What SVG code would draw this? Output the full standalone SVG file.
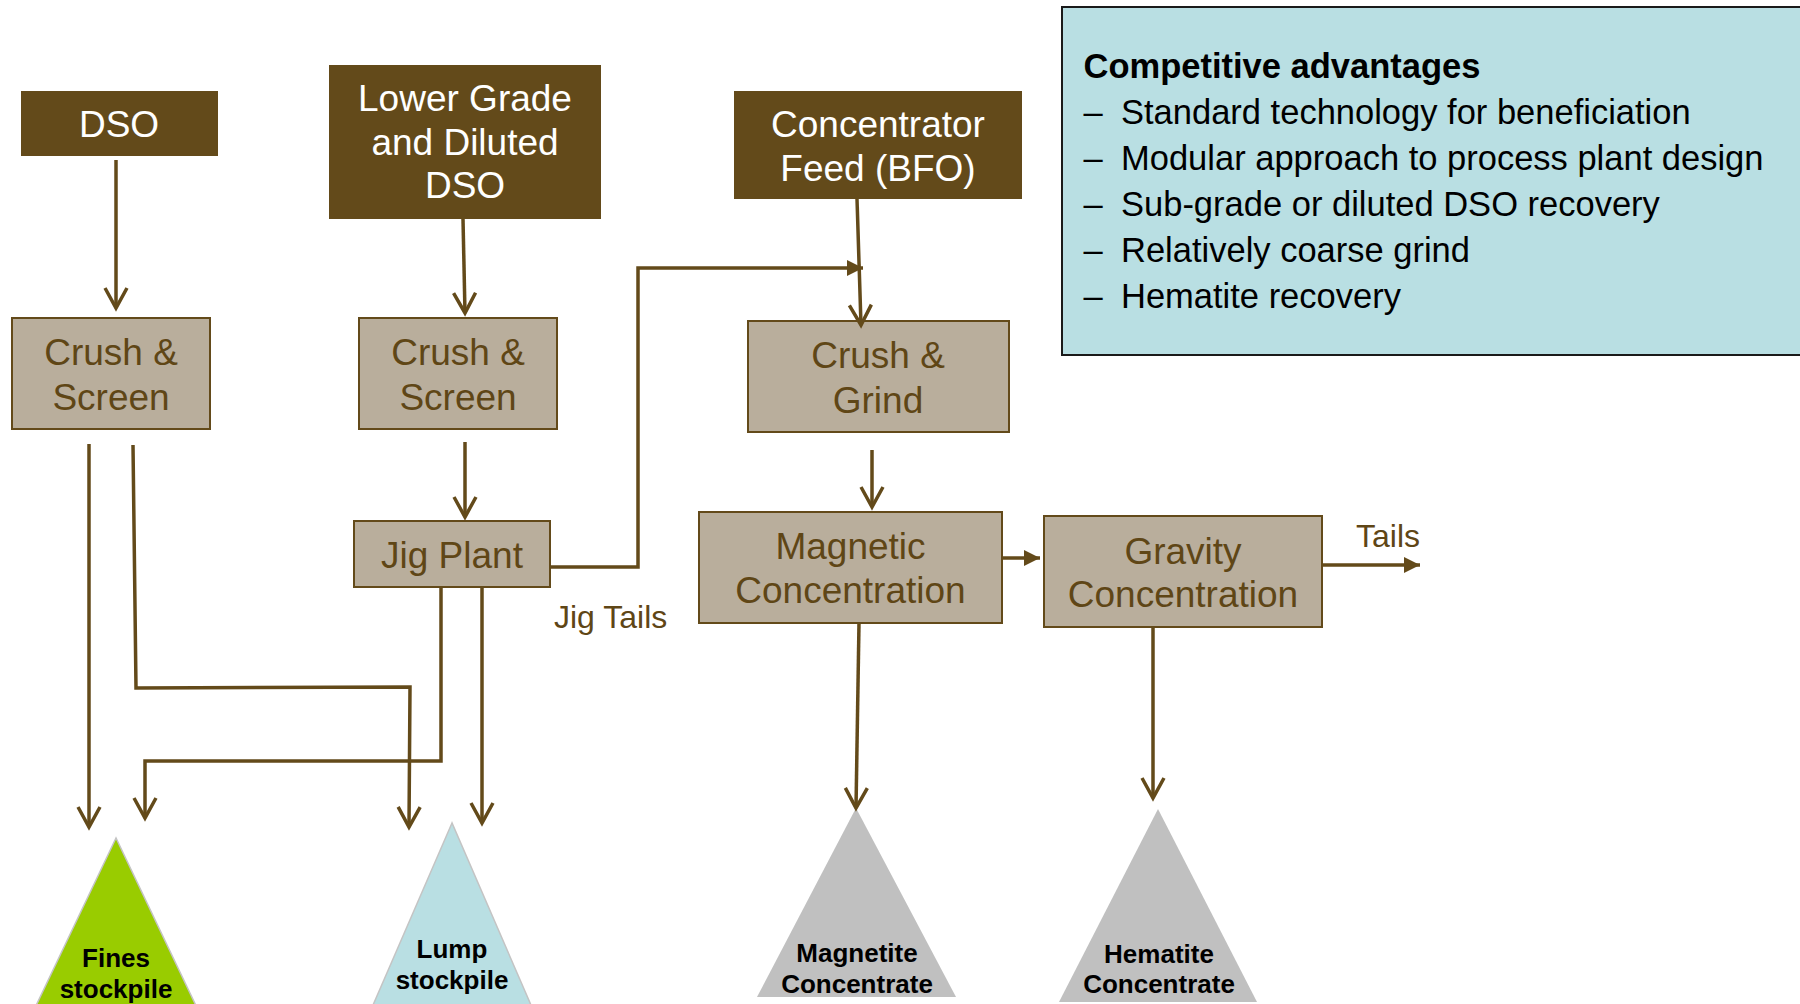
<svg xmlns="http://www.w3.org/2000/svg" width="1800" height="1004" viewBox="0 0 1800 1004">
<defs>
<style>
.hdr{fill:#634a1a}
.proc{fill:#b9ae9c;stroke:#634a1a;stroke-width:2}
.ht{font-family:"Liberation Sans",Arial,sans-serif;font-size:37px;fill:#ffffff;text-anchor:middle}
.pt{font-family:"Liberation Sans",Arial,sans-serif;font-size:37px;fill:#5f4616;text-anchor:middle}
.lbl{font-family:"Liberation Sans",Arial,sans-serif;font-size:32px;fill:#5f4616}
.pile{font-family:"Liberation Sans",Arial,sans-serif;font-size:26px;font-weight:bold;fill:#000;text-anchor:middle}
.pan{font-family:"Liberation Sans",Arial,sans-serif;font-size:34.5px;fill:#000}
.conn{fill:none;stroke:#634a1a;stroke-width:3.5}
</style>
<marker id="v" markerUnits="userSpaceOnUse" markerWidth="30" markerHeight="30" refX="0" refY="0" orient="auto" overflow="visible">
<path d="M-20,-11 L0,0 L-20,11" fill="none" stroke="#634a1a" stroke-width="3.5"/>
</marker>
<marker id="f" markerUnits="userSpaceOnUse" markerWidth="30" markerHeight="30" refX="0" refY="0" orient="auto" overflow="visible">
<path d="M-16,-8 L0,0 L-16,8 Z" fill="#634a1a"/>
</marker>
</defs>
<rect width="1800" height="1004" fill="#ffffff"/>

<g id="panel">
<rect x="1062" y="7" width="760" height="348" fill="#b9dfe3" stroke="#1a1a1a" stroke-width="2"/>
<text class="pan" x="1083.5" y="78" font-weight="bold" font-size="34">Competitive advantages</text>
<text class="pan" x="1083.5" y="124">–</text><text class="pan" x="1121" y="124">Standard technology for beneficiation</text>
<text class="pan" x="1083.5" y="170">–</text><text class="pan" x="1121" y="170">Modular approach to process plant design</text>
<text class="pan" x="1083.5" y="216">–</text><text class="pan" x="1121" y="216">Sub-grade or diluted DSO recovery</text>
<text class="pan" x="1083.5" y="262">–</text><text class="pan" x="1121" y="262">Relatively coarse grind</text>
<text class="pan" x="1083.5" y="308">–</text><text class="pan" x="1121" y="308">Hematite recovery</text>
</g>

<g id="dso">
<rect class="hdr" x="21" y="91" width="197" height="65"/>
<text class="ht" x="119" y="137">DSO</text>
</g>
<g id="lower-grade">
<rect class="hdr" x="329" y="65" width="272" height="154"/>
<text class="ht" x="465" y="111">Lower Grade</text>
<text class="ht" x="465" y="155">and Diluted</text>
<text class="ht" x="465" y="198">DSO</text>
</g>
<g id="concentrator-feed">
<rect class="hdr" x="734" y="91" width="288" height="108"/>
<text class="ht" x="878" y="137">Concentrator</text>
<text class="ht" x="878" y="181">Feed (BFO)</text>
</g>

<g id="crush-screen-1">
<rect class="proc" x="12" y="318" width="198" height="111"/>
<text class="pt" x="111" y="365">Crush &amp;</text>
<text class="pt" x="111" y="410">Screen</text>
</g>
<g id="crush-screen-2">
<rect class="proc" x="359" y="318" width="198" height="111"/>
<text class="pt" x="458" y="365">Crush &amp;</text>
<text class="pt" x="458" y="410">Screen</text>
</g>
<g id="crush-grind">
<rect class="proc" x="748" y="321" width="261" height="111"/>
<text class="pt" x="878" y="368">Crush &amp;</text>
<text class="pt" x="878" y="413">Grind</text>
</g>
<g id="jig-plant">
<rect class="proc" x="354" y="521" width="196" height="66"/>
<text class="pt" x="452" y="568">Jig Plant</text>
</g>
<g id="magnetic">
<rect class="proc" x="699" y="512" width="303" height="111"/>
<text class="pt" x="850.5" y="559">Magnetic</text>
<text class="pt" x="850.5" y="603">Concentration</text>
</g>
<g id="gravity">
<rect class="proc" x="1044" y="516" width="278" height="111"/>
<text class="pt" x="1183" y="564">Gravity</text>
<text class="pt" x="1183" y="607">Concentration</text>
</g>

<g id="fines-stockpile">
<polygon points="116,838 33,1012 199,1012" fill="#99cc00" stroke="#c4c4c4" stroke-width="1.5"/>
<text class="pile" x="116" y="967">Fines</text>
<text class="pile" x="116" y="998">stockpile</text>
</g>
<g id="lump-stockpile">
<polygon points="452,823 370,1012 534,1012" fill="#b9dfe3" stroke="#c4c4c4" stroke-width="1.5"/>
<text class="pile" x="452" y="958">Lump</text>
<text class="pile" x="452" y="989">stockpile</text>
</g>
<g id="magnetite-concentrate">
<polygon points="856,808 757,997 956,997" fill="#c0c0c0"/>
<text class="pile" x="857" y="962">Magnetite</text>
<text class="pile" x="857" y="993">Concentrate</text>
</g>
<g id="hematite-concentrate">
<polygon points="1158,809 1059,1002 1257,1002" fill="#c0c0c0"/>
<text class="pile" x="1159" y="963">Hematite</text>
<text class="pile" x="1159" y="993">Concentrate</text>
</g>

<g id="connectors">
<path class="conn" d="M116,160 L116,308" marker-end="url(#v)"/>
<path class="conn" d="M463,219 L465,313" marker-end="url(#v)"/>
<path class="conn" d="M857,199 L861,325" marker-end="url(#v)"/>
<path class="conn" d="M465,442 L465,517" marker-end="url(#v)"/>
<path class="conn" d="M550,567 L638,567 L638,268 L863,268" stroke-width="4" marker-end="url(#f)"/>
<path class="conn" d="M872,450 L872,507" marker-end="url(#v)"/>
<path class="conn" d="M1002,558 L1040,558" stroke-width="4.5" marker-end="url(#f)"/>
<path class="conn" d="M1322,565 L1420,565" stroke-width="4" marker-end="url(#f)"/>
<path class="conn" d="M89,444 L89,827" marker-end="url(#v)"/>
<path class="conn" d="M133,445 L136,688 L410,687 L409,827" marker-end="url(#v)"/>
<path class="conn" d="M441,587 L441,761 L145,761 L145,818" marker-end="url(#v)"/>
<path class="conn" d="M482,587 L482,823" marker-end="url(#v)"/>
<path class="conn" d="M859,623 L856,808" marker-end="url(#v)"/>
<path class="conn" d="M1153,627 L1153,798" marker-end="url(#v)"/>
</g>
<text class="lbl" x="554" y="628">Jig Tails</text>
<text class="lbl" x="1356" y="547" font-size="31">Tails</text>
</svg>
